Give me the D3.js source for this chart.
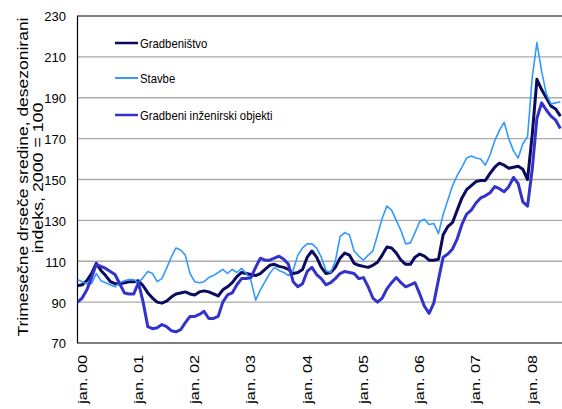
<!DOCTYPE html>
<html>
<head>
<meta charset="utf-8">
<script src="https://cdn.jsdelivr.net/npm/d3@7"></script>
<style>
  body { margin: 0; background: #fff; }
  text { font-family: Arial, "Liberation Sans", sans-serif; fill: #000; }
</style>
</head>
<body>
<svg width="562" height="409"></svg>
<script>
// monthly data, jan 2000 - aug 2008
var months = d3.timeMonth.range(new Date(2000, 0, 1), new Date(2008, 8, 1));

var gradbenistvo = [
  98, 98.5, 100.5, 104, 109, 105.5, 103, 100, 99, 99, 99.5, 100,
  100, 100.5, 98, 94.5, 92, 90, 89.5, 90.5, 92.5, 94, 94.5, 95,
  94, 93.5, 95, 95.5, 95, 94, 93, 96, 97.5, 99.5, 102.5, 104.5,
  104, 103.5, 103, 104, 106, 108, 108.5, 107.5, 107, 106, 104, 104.5,
  106, 112, 115, 112, 107, 104, 104.5, 107, 111.5, 114, 113, 109,
  108, 107.5, 107, 108, 109.5, 113, 117, 116.5, 114, 110.5, 108.5, 108.5,
  112, 113.5, 112.5, 110.5, 110.5, 111, 123, 127, 129, 135, 141, 145,
  147, 149, 149.5, 149.5, 153, 156, 158, 157, 155.5, 156, 156.5, 155,
  150, 172, 199, 194, 190, 186, 184.5, 181
];

var stavbe = [
  101, 100, 99, 99, 104, 100.5, 99.5, 98.5, 97.5, 99.5, 100.5, 101,
  101, 99.5, 102, 105, 104, 100, 101.5, 106.5, 112, 116.5, 115.5, 113,
  104, 100, 99.5, 100, 102, 103, 104.5, 106, 104, 106, 104.5, 106.5,
  104, 100.5, 91, 96, 100, 104, 107, 105.5, 104.5, 103, 105.5, 113,
  116.5, 118.5, 118.5, 116.5, 112, 105.5, 104.5, 110, 122, 124, 123, 115,
  112.5, 110.5, 113, 115, 123, 131, 137, 135, 130, 125, 118.5, 119,
  124, 129.5, 130.5, 128, 128.5, 123.5, 133, 140, 147, 152, 156, 160.5,
  161.5, 160.5, 160, 157, 162, 169, 174, 178, 170, 164, 160.5, 167.5,
  171, 200, 217, 203, 192, 187, 187.5, 188
];

var inzenirski = [
  90, 92, 96, 102, 108.5, 107.5, 106.5, 105, 103.5, 99, 94.5, 94,
  94, 99.5, 90, 78, 77, 77.5, 79, 78, 76, 75.5, 76.5, 80,
  83, 83, 84, 85.5, 82, 82, 83, 90, 93.5, 94.5, 98.5, 101.5,
  101.5, 102, 107, 111.5, 110.5, 110.5, 111.5, 112.5, 111, 108.5, 100, 97.5,
  99, 105, 107, 103.5, 101.5, 98.5, 99.5, 101.5, 104, 105, 104.5, 104,
  101.5, 102, 97.5, 92, 90, 92, 96.5, 99.5, 102, 99.5, 97.5, 98.5,
  99.5, 94, 88, 84.5, 89.5, 101, 112, 113.5, 116, 121, 128, 133,
  135, 138.5, 141, 142, 143.5, 146.5, 145.5, 144, 146.5, 151, 148, 139,
  137, 155, 180, 187.5, 184, 181, 179, 175
];

var yTicks = [70, 90, 110, 130, 150, 170, 190, 210, 230];
var xTickLabels = ["jan. 00", "jan. 01", "jan. 02", "jan. 03", "jan. 04",
                   "jan. 05", "jan. 06", "jan. 07", "jan. 08"];

var seriesNames = ["Gradbeništvo", "Stavbe", "Gradbeni inženirski objekti"];
var seriesColors = ["#0a0a5e", "#3399ff", "#3333cc"];
var seriesWidths = [3, 1.6, 3];

var svg = d3.select("svg");
var plotLeft = 77.5, plotRight = 562, plotTop = 16, plotBottom = 343;

// month index scale, jan.00 sits on the axis
var x = d3.scaleLinear().domain([0, 103.35]).range([plotLeft, plotRight]);
var y = d3.scaleLinear().domain([70, 230]).range([plotBottom, plotTop]);

// grid
svg.append("g")
  .selectAll("line")
  .data(yTicks.slice(1, -1))
  .enter().append("line")
  .attr("x1", plotLeft).attr("x2", plotRight)
  .attr("y1", function (d) { return y(d); })
  .attr("y2", function (d) { return y(d); })
  .attr("stroke", "#aaaaaa")
  .attr("stroke-width", 1.3);

// frame: left, bottom, top
svg.append("path")
  .attr("d", "M" + plotRight + "," + plotTop + "H" + plotLeft + "V" + plotBottom + "H" + plotRight)
  .attr("fill", "none")
  .attr("stroke", "#000")
  .attr("stroke-width", 1.2);

// y labels
svg.append("g")
  .selectAll("text")
  .data(yTicks)
  .enter().append("text")
  .attr("x", 66)
  .attr("y", function (d) { return y(d); })
  .attr("dy", "0.42em")
  .attr("text-anchor", "end")
  .style("font-size", "13px")
  .text(function (d) { return d; });

// x labels, rotated
svg.append("g")
  .selectAll("text")
  .data(xTickLabels)
  .enter().append("text")
  .attr("transform", function (d, i) {
    return "translate(" + (x(i * 12) + 9) + ",355) rotate(-90) scale(1.25,1)";
  })
  .attr("text-anchor", "end")
  .style("font-size", "13px")
  .text(function (d) { return d; });

// axis title
var title = svg.append("g");
title.append("text")
  .attr("transform", "translate(28,177) rotate(-90) scale(1.25,1)")
  .attr("text-anchor", "middle")
  .style("font-size", "14px")
  .text("Trimesečne drseče sredine, desezonirani");
title.append("text")
  .attr("transform", "translate(43,178) rotate(-90) scale(1.27,1)")
  .attr("text-anchor", "middle")
  .style("font-size", "14px")
  .text("indeks, 2000 = 100");

// lines
var allSeries = [gradbenistvo, stavbe, inzenirski];
var line = d3.line()
  .x(function (d, i) { return x(i); })
  .y(function (d) { return y(d); });

svg.append("defs").append("clipPath").attr("id", "plot")
  .append("rect").attr("x", plotLeft).attr("y", plotTop)
  .attr("width", plotRight - plotLeft).attr("height", plotBottom - plotTop);

svg.append("g")
  .attr("clip-path", "url(#plot)")
  .selectAll("path")
  .data(allSeries)
  .enter().append("path")
  .attr("d", line)
  .attr("fill", "none")
  .attr("stroke", function (d, i) { return seriesColors[i]; })
  .attr("stroke-width", function (d, i) { return seriesWidths[i]; })
  .attr("stroke-linejoin", "round");

// legend
var legendY = [43, 78, 115];
var lg = svg.append("g")
  .selectAll("g")
  .data(seriesNames)
  .enter().append("g")
  .attr("transform", function (d, i) { return "translate(115," + legendY[i] + ")"; });
lg.append("line")
  .attr("x1", 0).attr("x2", 23)
  .attr("stroke", function (d, i) { return seriesColors[i]; })
  .attr("stroke-width", function (d, i) { return i == 1 ? 2 : 2.5; });
lg.append("text")
  .attr("transform", "translate(25,5) scale(0.87,1)")
  .style("font-size", "13px")
  .text(function (d) { return d; });
</script>
</body>
</html>
